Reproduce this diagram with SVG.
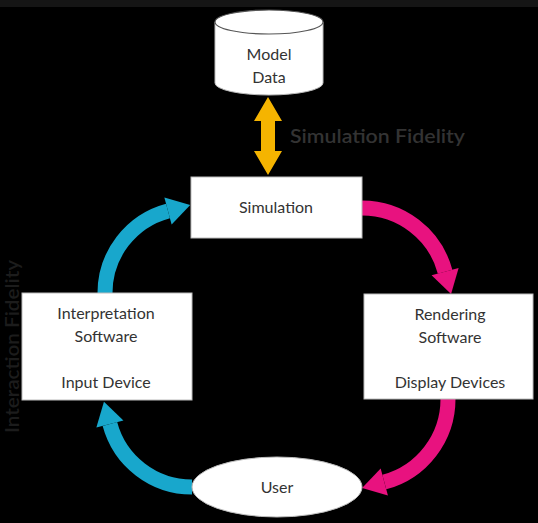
<svg xmlns="http://www.w3.org/2000/svg" width="538" height="523" viewBox="0 0 538 523">
  <style>
    .box { fill: #ffffff; stroke: #bbbbbb; stroke-width: 1; }
    .lbl { font-family: Lato, "Open Sans", sans-serif; font-size: 16px; fill: #333333; text-anchor: middle; }
    .big { font-family: Lato, "Open Sans", sans-serif; font-size: 20px; font-weight: 600; fill: #333333; }
    .cyan { fill: none; stroke: #18a7cc; stroke-width: 15; }
    .pink { fill: none; stroke: #e8127f; stroke-width: 15; }
  </style>
  <defs>
    <marker id="headC" markerUnits="userSpaceOnUse" orient="auto" refX="0" refY="0" markerWidth="30" markerHeight="30" overflow="visible">
      <path d="M0,-14 L23,0 L0,14 Z" fill="#18a7cc"/>
    </marker>
    <marker id="headP" markerUnits="userSpaceOnUse" orient="auto" refX="0" refY="0" markerWidth="30" markerHeight="30" overflow="visible">
      <path d="M0,-14 L23,0 L0,14 Z" fill="#e8127f"/>
    </marker>
  </defs>
  <rect x="0" y="0" width="538" height="523" fill="#000000"/>
  <rect x="0" y="0" width="538" height="7" fill="#151515"/>

  <text class="big" transform="translate(19,433) rotate(-90)" textLength="173" lengthAdjust="spacingAndGlyphs" style="fill:#1c1c1c">Interaction Fidelity</text>

  <g id="connectors">
    <path class="cyan" d="M105,293 A85,85 0 0 1 168,210.9" marker-end="url(#headC)"/>
    <path class="cyan" d="M192,487 A85,85 0 0 1 109.9,424" marker-end="url(#headC)"/>
    <path class="pink" d="M362,208 A86,86 0 0 1 445.1,271.7" marker-end="url(#headP)"/>
    <path class="pink" d="M448,399 A86,86 0 0 1 384.3,482.1" marker-end="url(#headP)"/>
    <polygon fill="#f5b400" points="268,97 282,121 275,121 275,151 282,151 268,175 254,151 261,151 261,121 254,121"/>
    <text class="big" x="290" y="143" textLength="175" lengthAdjust="spacingAndGlyphs">Simulation Fidelity</text>
  </g>

  <g id="model-data">
    <path d="M215,22 L215,83 A54,12 0 0 0 323,83 L323,22" fill="#ffffff" stroke="#bbbbbb" stroke-width="1"/>
    <ellipse cx="269" cy="22" rx="54" ry="12" fill="#ffffff" stroke="#555555" stroke-width="1.2"/>
    <text class="lbl" x="269" y="60">Model</text>
    <text class="lbl" x="269" y="83">Data</text>
  </g>

  <g id="simulation">
    <rect class="box" x="191" y="177" width="171" height="61"/>
    <text class="lbl" x="276" y="213">Simulation</text>
  </g>

  <g id="interpretation">
    <rect class="box" x="22" y="293" width="170" height="107"/>
    <text class="lbl" x="106" y="319">Interpretation</text>
    <text class="lbl" x="106" y="342">Software</text>
    <text class="lbl" x="106" y="388">Input Device</text>
  </g>

  <g id="rendering">
    <rect class="box" x="364" y="294" width="169" height="105"/>
    <text class="lbl" x="450" y="320">Rendering</text>
    <text class="lbl" x="450" y="343">Software</text>
    <text class="lbl" x="450" y="388">Display Devices</text>
  </g>

  <g id="user">
    <ellipse cx="277" cy="487" rx="85" ry="30" fill="#ffffff" stroke="#bbbbbb" stroke-width="1"/>
    <text class="lbl" x="277" y="493">User</text>
  </g>
</svg>
